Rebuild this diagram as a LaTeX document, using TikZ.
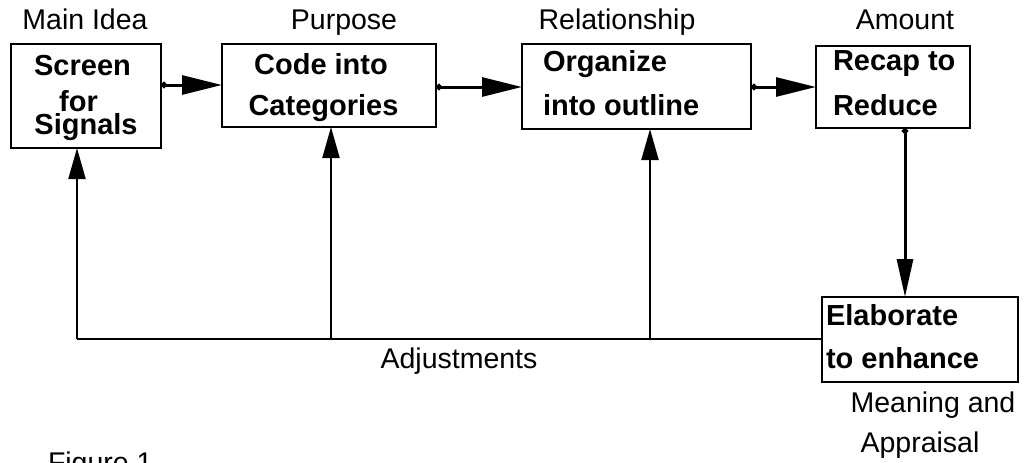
\documentclass[tikz,border=0pt]{standalone}
\usepackage{fontspec}
\setmainfont{Liberation Sans}
\usetikzlibrary{arrows.meta}
\begin{document}
\begin{tikzpicture}[x=1pt,y=-1pt,
  box/.style={draw, line width=2.4pt, inner sep=0pt, outer sep=0pt},
  lbl/.style={inner sep=0pt, outer sep=0pt, anchor=base, font=\fontsize{28.5}{34}\selectfont},
  btxt/.style={inner sep=0pt, outer sep=0pt, anchor=base, font=\fontsize{29}{34}\selectfont\bfseries},
  flow/.style={line width=3pt, {Circle[length=6pt]}-{Triangle[length=40pt,width=19pt]}},
  downflow/.style={line width=3pt, {Circle[length=6pt]}-{Triangle[length=38pt,width=16pt]}},
  fb/.style={line width=2.2pt},
  fbarrow/.style={line width=2.2pt, -{Triangle[length=31pt,width=17pt]}}]
\useasboundingbox (0,0) rectangle (1026,463);
% boxes
\node[box, minimum width=150pt, minimum height=104pt] (b1) at (86,96) {};
\node[box, minimum width=214pt, minimum height=83pt] (b2) at (329,85.5) {};
\node[box, minimum width=229pt, minimum height=85pt] (b3) at (636.5,86.5) {};
\node[box, minimum width=154pt, minimum height=82pt] (b4) at (893,87) {};
\node[box, minimum width=196pt, minimum height=85pt] (b5) at (920,339.5) {};
% box texts
\node[btxt] (t1a) at (82.5,75) {Screen};
\node[btxt] (t1b) at (78.5,111) {for};
\node[btxt] (t1c) at (86,134) {Signals};
\node[btxt] (t2a) at (321,74) {Code into};
\node[btxt] (t2b) at (323.5,115) {Categories};
\node[btxt, anchor=base west] (t3a) at (543,71) {Organize};
\node[btxt, anchor=base west] (t3b) at (543,115) {into outline};
\node[btxt, anchor=base west] (t4a) at (833,70) {Recap to};
\node[btxt, anchor=base west] (t4b) at (833,115) {Reduce};
\node[btxt, anchor=base west] (t5a) at (826,325) {Elaborate};
\node[btxt, anchor=base west] (t5b) at (826,368) {to enhance};
% labels
\node[lbl] (l1) at (85,30) {Main Idea};
\node[lbl] (l2) at (344,30) {Purpose};
\node[lbl] (l3) at (617,30) {Relationship};
\node[lbl] (l4) at (905,30) {Amount};
\node[lbl] (l5) at (459,368) {Adjustments};
\node[lbl] (l6) at (933,412) {Meaning and};
\node[lbl] (l7) at (920,452) {Appraisal};
\node[lbl, anchor=base west] (fig) at (48,472) {Figure 1};
% forward arrows
\coordinate (h1) at (0,85);
\coordinate (h2) at (0,87);
\coordinate (v4) at (905,0);
\draw[flow] (b1.east |- h1) -- (b2.west |- h1);
\draw[flow] (b2.east |- h2) -- (b3.west |- h2);
\draw[flow] (b3.east |- h2) -- (b4.west |- h2);
\draw[downflow] (b4.south -| v4) -- (b5.north -| v4);
% feedback
\coordinate (j1) at (77,339);
\coordinate (j2) at (331,339);
\coordinate (j3) at (650,339);
\draw[fb] (b5.west |- j1) -- (j1);
\draw[fbarrow] (j1) -- (b1.south -| j1);
\draw[fbarrow] (j2) -- (b2.south -| j2);
\draw[fbarrow] (j3) -- (b3.south -| j3);
\end{tikzpicture}
\end{document}
